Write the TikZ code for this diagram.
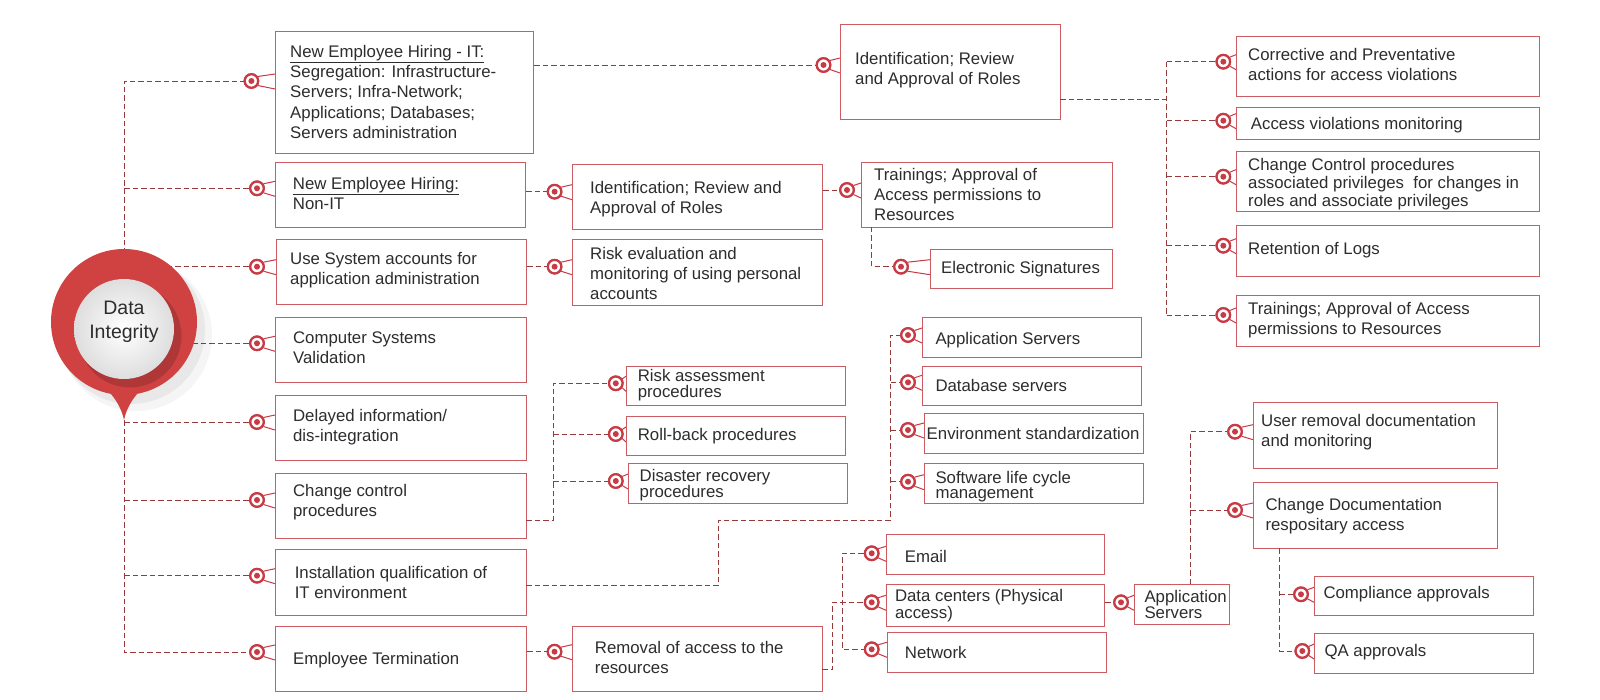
\documentclass[tikz,border=0pt]{standalone}
\usepackage{fontspec}
\setmainfont{Liberation Sans}
\usetikzlibrary{calc}
\definecolor{boxred}{RGB}{205,92,98}
\definecolor{dashred}{RGB}{150,58,60}
\definecolor{mkred}{RGB}{200,58,68}
\definecolor{pinred}{RGB}{208,66,66}
\definecolor{txtc}{RGB}{45,45,45}
\tikzset{
 bx/.style={draw=boxred, line width=1.1pt, fill=white, rectangle, inner sep=0pt},
 tx/.style={anchor=north west, inner sep=0pt, align=left, text=txtc, font=\fontsize{16.8}{20.3}\selectfont},
 dl/.style={draw=dashred, line width=0.9pt, dash pattern=on 5.5pt off 3pt},
 mk/.style={circle, draw=mkred, line width=2.2pt, fill=white, minimum size=13.5pt, inner sep=0pt,
   path picture={\fill[mkred] (path picture bounding box.center) circle (3pt);}},
 mkl/.style={draw=mkred, line width=1pt},
}
\newcommand\dbox[5]{\node[bx, anchor=north west, minimum width={#4-#2}, minimum height={#5-#3}] (#1) at (#2,#3) {};}
\newcommand\mkjoin[2]{\draw[mkl] (#1.35) -- ($(#1 -| #2.west)+(0,-7)$); \draw[mkl] (#1.-35) -- ($(#1 -| #2.west)+(0,8)$);}
\begin{document}
\begin{tikzpicture}[x=1pt,y=-1pt]
\fill[white] (0,0) rectangle (1600,700);
\useasboundingbox (0,0) rectangle (1600,700);

% ---------- markers (positions) ----------
\node[mk] (mA) at (251.4,81) {};
\node[mk] (mB) at (257,188.3) {};
\node[mk] (mC) at (257,266.7) {};
\node[mk] (mD) at (257,343.3) {};
\node[mk] (mP) at (257,422) {};
\node[mk] (mQ) at (257,500) {};
\node[mk] (mR) at (257,575.7) {};
\node[mk] (mS) at (257,652) {};
\node[mk] (mE) at (823.5,65) {};
\node[mk] (mF) at (554.6,191.7) {};
\node[mk] (mG) at (847,190) {};
\node[mk] (mH) at (554.6,266.7) {};
\node[mk] (mI) at (901,266.7) {};
\node[mk] (mJ) at (1223.3,61.7) {};
\node[mk] (mK) at (1223.3,120.7) {};
\node[mk] (mL) at (1223.3,176.7) {};
\node[mk] (mM) at (1223.3,245.7) {};
\node[mk] (mN) at (1223.3,315) {};
\node[mk] (mT) at (615.8,383.3) {};
\node[mk] (mU) at (615.8,434) {};
\node[mk] (mV) at (615.8,481) {};
\node[mk] (mW) at (908,335) {};
\node[mk] (mX) at (908,382.3) {};
\node[mk] (mY) at (908,430) {};
\node[mk] (mZ) at (908,481.7) {};
\node[mk] (mAA) at (554.5,651.7) {};
\node[mk] (mEm) at (871.7,553.3) {};
\node[mk] (mDC) at (871.7,602.3) {};
\node[mk] (mNw) at (871.7,649.3) {};
\node[mk] (mAB) at (1121,602.3) {};
\node[mk] (mAC) at (1235,431.7) {};
\node[mk] (mAD) at (1235,510) {};
\node[mk] (mAE) at (1301,594.3) {};
\node[mk] (mAF) at (1302.3,651) {};

% ---------- boxes ----------
\dbox{A}{275}{31}{533}{153}
\dbox{B}{275}{162}{525}{227}
\dbox{C}{276}{239}{526}{304}
\dbox{D}{275}{317}{526}{382}
\dbox{P}{275}{395}{526}{460}
\dbox{Q}{275}{473}{526}{538}
\dbox{R}{275}{549}{526}{615}
\dbox{S}{275}{626}{526}{691}
\dbox{E}{840}{24}{1060}{119}
\dbox{F}{572}{164}{822}{229}
\dbox{G}{861}{162}{1112}{227}
\dbox{H}{572}{239}{822}{305}
\dbox{I}{930}{249}{1112}{288}
\dbox{J}{1236}{36}{1539}{96}
\dbox{K}{1236}{107}{1539}{139}
\dbox{L}{1236}{151}{1539}{211}
\dbox{M}{1236}{225}{1539}{276}
\dbox{N}{1236}{295}{1539}{346}
\dbox{T}{626}{366}{845}{405}
\dbox{U}{626}{416}{845}{455}
\dbox{V}{628}{463}{847}{503}
\dbox{W}{922}{317}{1141}{357}
\dbox{X}{922}{366}{1141}{405}
\dbox{Y}{924}{413}{1143}{453}
\dbox{Z}{924}{463}{1143}{503}
\dbox{Em}{886}{534}{1104}{574}
\dbox{DC}{886}{584}{1104}{626}
\dbox{Nw}{887}{632}{1106}{672}
\dbox{AA}{572}{626}{822}{691}
\dbox{AB}{1134}{584}{1229}{624}
\dbox{AC}{1253}{402}{1497}{468}
\dbox{AD}{1253}{482}{1497}{548}
\dbox{AE}{1314}{576}{1533}{615}
\dbox{AF}{1314}{633}{1533}{673}

% ---------- pin geometry (named) ----------
\coordinate (pc) at (124,322);
\coordinate (tip) at (124,420);
\coordinate (tt) at (124,81);
\coordinate (tb) at (124,652);

% ---------- connectors ----------
\draw[dl] (pc) -- (tt) -- (mA.west);
\draw[dl] (tt |- mB) -- (mB.west);
\draw[dl] (pc |- mC) -- (mC.west);
\draw[dl] (pc |- mD) -- (mD.west);
\draw[dl] (tip) -- (tb) -- (mS.west);
\draw[dl] (tip |- mP) -- (mP.west);
\draw[dl] (tip |- mQ) -- (mQ.west);
\draw[dl] (tip |- mR) -- (mR.west);
\draw[dl] (A.east |- mE) -- (mE.west);
\draw[dl] (B.east |- mF) -- (mF.west);
\draw[dl] (F.east |- mG) -- (mG.west);
\draw[dl] (C.east |- mH) -- (mH.west);
\coordinate (gi) at (871.7,227);
\draw[dl] (gi) -- (gi |- mI) -- (mI.west);
\coordinate (eo) at (1060,99);
\coordinate (rt) at (1166.7,99);
\draw[dl] (eo) -- (rt);
\draw[dl] (rt |- mJ) -- (rt |- mN);
\foreach \m in {J,K,L,M,N} {\draw[dl] (rt |- m\m) -- (m\m.west);}
\coordinate (qo) at (526,520);
\coordinate (qt) at (553.4,520);
\draw[dl] (qo) -- (qt) -- (qt |- mT) -- (mT.west);
\draw[dl] (qt |- mU) -- (mU.west);
\draw[dl] (qt |- mV) -- (mV.west);
\coordinate (ro) at (526,585.7);
\coordinate (r1) at (718,585.7);
\coordinate (r2) at (718,520);
\coordinate (r3) at (890.6,520);
\draw[dl] (ro) -- (r1) -- (r2) -- (r3) -- (r3 |- mW) -- (mW.west);
\draw[dl] (r3 |- mX) -- (mX.west);
\draw[dl] (r3 |- mY) -- (mY.west);
\draw[dl] (r3 |- mZ) -- (mZ.west);
\draw[dl] (S.east |- mAA) -- (mAA.west);
\coordinate (ao) at (822,669.3);
\coordinate (a1) at (832.3,669.3);
\draw[dl] (ao) -- (a1) -- (a1 |- mDC) -- (mDC.west);
\coordinate (vt) at (842.3,553.3);
\draw[dl] (mEm.west) -- (vt) -- (vt |- mNw) -- (mNw.west);
\draw[dl] (DC.east |- mAB) -- (mAB.west);
\coordinate (abt) at (1190,584);
\draw[dl] (abt) -- (abt |- mAC) -- (mAC.west);
\draw[dl] (abt |- mAD) -- (mAD.west);
\coordinate (adb) at (1279.3,548);
\draw[dl] (adb) -- (adb |- mAF) -- (mAF.west);
\draw[dl] (adb |- mAE) -- (mAE.west);

% ---------- marker joins ----------
\mkjoin{mA}{A}\mkjoin{mB}{B}\mkjoin{mC}{C}\mkjoin{mD}{D}
\mkjoin{mP}{P}\mkjoin{mQ}{Q}\mkjoin{mR}{R}\mkjoin{mS}{S}
\mkjoin{mE}{E}\mkjoin{mF}{F}\mkjoin{mG}{G}\mkjoin{mH}{H}\mkjoin{mI}{I}
\mkjoin{mJ}{J}\mkjoin{mK}{K}\mkjoin{mL}{L}\mkjoin{mM}{M}\mkjoin{mN}{N}
\mkjoin{mT}{T}\mkjoin{mU}{U}\mkjoin{mV}{V}
\mkjoin{mW}{W}\mkjoin{mX}{X}\mkjoin{mY}{Y}\mkjoin{mZ}{Z}
\mkjoin{mAA}{AA}\mkjoin{mEm}{Em}\mkjoin{mDC}{DC}\mkjoin{mNw}{Nw}
\mkjoin{mAB}{AB}\mkjoin{mAC}{AC}\mkjoin{mAD}{AD}\mkjoin{mAE}{AE}\mkjoin{mAF}{AF}

% redraw markers on top
\foreach \m in {A,B,C,D,P,Q,R,S,E,F,G,H,I,J,K,L,M,N,T,U,V,W,X,Y,Z,AA,Em,DC,Nw,AB,AC,AD,AE,AF}
 {\node[mk] at (m\m) {};}

% ---------- pin ----------
\fill[black, opacity=0.04] (136,335) circle (76);
\fill[black, opacity=0.05] (131,330) circle (74);
\node[circle, fill=pinred, minimum size=146pt, inner sep=0pt] (pin) at (pc) {};
\fill[pinred] (94,376) .. controls (110,392) and (120,402) .. (tip) .. controls (128,402) and (138,392) .. (154,376) -- cycle;
\fill[pinred!55!black, opacity=0.35] (130,336) circle (51.5);
\node[circle, minimum size=100pt, inner sep=0pt, shading=radial, inner color=white, outer color=black!13] (ball) at (124,329) {};
\node[align=center, text=txtc, font=\fontsize{19.5}{23.4}\selectfont, inner sep=0pt] (dit) at (124,322) {Data\\Integrity};

% ---------- texts ----------
\node[tx] (tA) at (290,45) {\underline{New Employee Hiring - IT:}\\Segregation: Infrastructure-\\Servers; Infra-Network;\\Applications; Databases;\\Servers administration};
\node[tx] (tB) at (292.7,177.3) {\underline{New Employee Hiring:}\\Non-IT};
\node[tx] (tC) at (290,252.3) {Use System accounts for\\application administration};
\node[tx] (tD) at (292.9,331.7) {Computer Systems\\Validation};
\node[tx] (tP) at (292.9,409) {Delayed information/\\dis-integration};
\node[tx] (tQ) at (292.9,483.7) {Change control\\procedures};
\node[tx] (tR) at (294.6,565.7) {Installation qualification of\\IT environment};
\node[tx] (tS) at (292.9,652.3) {Employee Termination};
\node[tx] (tE) at (855,52.3) {Identification; Review\\and Approval of Roles};
\node[tx] (tF) at (590,180.7) {Identification; Review and\\Approval of Roles};
\node[tx] (tG) at (874,167.7) {Trainings; Approval of\\Access permissions to\\Resources};
\node[tx] (tH) at (590,246.7) {Risk evaluation and\\monitoring of using personal\\accounts};
\node[tx] (tI) at (941,260.7) {Electronic Signatures};
\node[tx] (tJ) at (1248,48.3) {Corrective and Preventative\\actions for access violations};
\node[tx] (tK) at (1250.7,117.3) {Access violations monitoring};
\node[tx, font=\fontsize{16.8}{18}\selectfont] (tL) at (1248,158.3) {Change Control procedures\\associated privileges~ for changes in\\roles and associate privileges};
\node[tx] (tM) at (1248,242.3) {Retention of Logs};
\node[tx] (tN) at (1248,301.7) {Trainings; Approval of Access\\permissions to Resources};
\node[tx, font=\fontsize{16.8}{15.7}\selectfont] (tT) at (637.6,369.3) {Risk assessment\\procedures};
\node[tx] (tU) at (637.6,428.3) {Roll-back procedures};
\node[tx, font=\fontsize{16.8}{16}\selectfont] (tV) at (639.5,469.3) {Disaster recovery\\procedures};
\node[tx] (tW) at (935.3,331.7) {Application Servers};
\node[tx] (tX) at (935.3,379.3) {Database servers};
\node[tx] (tY) at (926.5,426.7) {Environment standardization};
\node[tx, font=\fontsize{16.8}{15}\selectfont] (tZ) at (935.3,470.7) {Software life cycle\\management};
\node[tx] (tEm) at (904.7,550) {Email};
\node[tx, font=\fontsize{16.8}{16.7}\selectfont] (tDC) at (894.8,589) {Data centers (Physical\\access)};
\node[tx] (tNw) at (904.7,645.7) {Network};
\node[tx] (tAA) at (594.7,640.7) {Removal of access to the\\resources};
\node[tx, font=\fontsize{16.8}{14}\selectfont] (tAB) at (1144.3,590) {Application\\Servers};
\node[tx] (tAC) at (1261,414.3) {User removal documentation\\and monitoring};
\node[tx] (tAD) at (1265.3,498.3) {Change Documentation\\respositary access};
\node[tx] (tAE) at (1323.3,585.7) {Compliance approvals};
\node[tx] (tAF) at (1324.3,644.3) {QA approvals};
\end{tikzpicture}
\end{document}
